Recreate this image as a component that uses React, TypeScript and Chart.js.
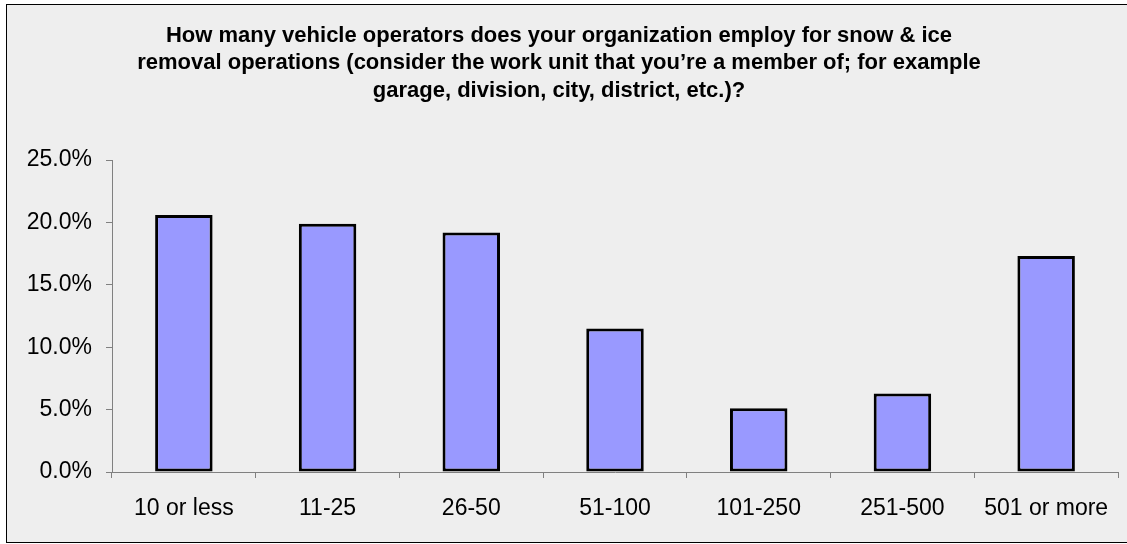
import React, { useEffect, useRef } from "react";
import { Chart, registerables } from "chart.js";

Chart.register(...registerables);

const categories = ["10 or less", "11-25", "26-50", "51-100", "101-250", "251-500", "501 or more"];
const percentages = [20.6, 19.9, 19.2, 11.5, 5.1, 6.3, 17.3];
const yTicks = [0, 5, 10, 15, 20, 25];
const titleLines = [
  "How many vehicle operators does your organization employ for snow & ice",
  "removal operations (consider the work unit that you\u2019re a member of; for example",
  "garage, division, city, district, etc.)?",
];

const FONT = "'Liberation Sans', Arial, sans-serif";

const framePlugin = {
  id: "frame",
  beforeDraw(chart: any) {
    const ctx = chart.ctx;
    ctx.save();
    ctx.fillStyle = "#ffffff";
    ctx.fillRect(0, 0, chart.width, chart.height);
    ctx.fillStyle = "#eeeeee";
    ctx.fillRect(6, 4, chart.width + 10, 539);
    ctx.strokeStyle = "#000000";
    ctx.lineWidth = 1;
    ctx.strokeRect(6.5, 4.5, chart.width + 10, 538);
    ctx.restore();
  },
};

export default function App() {
  const ref = useRef<HTMLCanvasElement | null>(null);
  useEffect(() => {
    document.body.style.margin = "0";
    const chart = new Chart(ref.current as HTMLCanvasElement, {
      type: "bar",
      data: {
        labels: categories,
        datasets: [
          {
            data: percentages,
            backgroundColor: "#9999ff",
            borderColor: "#000000",
            borderWidth: 3,
            borderSkipped: false,
            barPercentage: 0.4,
            categoryPercentage: 1,
          },
        ],
      },
      options: {
        animation: false,
        responsive: false,
        maintainAspectRatio: false,
        layout: { padding: { left: 0, right: 9, top: 0, bottom: 0 } },
        plugins: {
          legend: { display: false },
          tooltip: { enabled: false },
          title: {
            display: true,
            text: titleLines,
            color: "#000000",
            font: { family: FONT, size: 22, weight: "bold", lineHeight: 1.25 },
            padding: { top: 22, bottom: 55.5 },
          },
        },
        scales: {
          x: {
            afterFit(scale: any) {
              scale.height = 72;
            },
            grid: {
              offset: true,
              drawOnChartArea: false,
              drawTicks: true,
              tickLength: 6,
              color: "#808080",
            },
            border: { display: true, color: "#808080", width: 1 },
            ticks: {
              color: "#000000",
              font: { family: FONT, size: 23 },
              padding: 17,
              maxRotation: 0,
              autoSkip: false,
            },
          },
          y: {
            min: 0,
            max: 25,
            afterFit(scale: any) {
              scale.width = 112;
            },
            afterBuildTicks(scale: any) {
              scale.ticks = yTicks.map((v) => ({ value: v }));
            },
            grid: {
              drawOnChartArea: false,
              drawTicks: true,
              tickLength: 6,
              color: "#808080",
            },
            border: { display: true, color: "#808080", width: 1 },
            ticks: {
              color: "#000000",
              font: { family: FONT, size: 23 },
              padding: 14,
              callback: (v: any) => Number(v).toFixed(1) + "%",
            },
          },
        },
      },
      plugins: [framePlugin],
    });
    return () => chart.destroy();
  }, []);
  return (
    <div style={{ position: "absolute", left: 0, top: 0, width: 1127, height: 544 }}>
      <canvas ref={ref} width={1127} height={544} style={{ display: "block" }} />
    </div>
  );
}
